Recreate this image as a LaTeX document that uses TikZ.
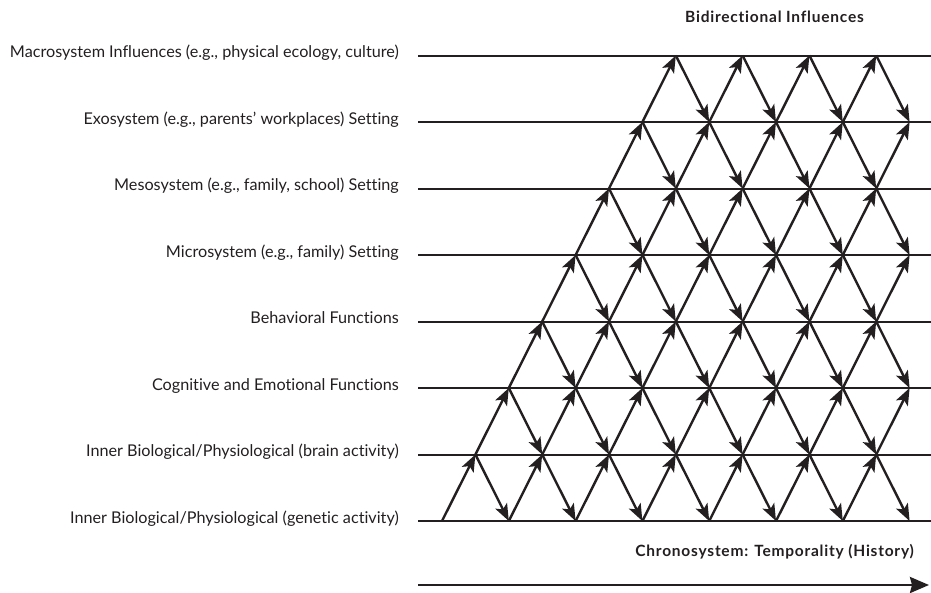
\documentclass[tikz,border=0pt]{standalone}
\usepackage{fontspec}
\setmainfont{Lato}[Ligatures=NoCommon]
\newfontfamily\headfont{Lato}[LetterSpace=5,Ligatures=NoCommon]
\usetikzlibrary{arrows.meta}
\definecolor{ink}{RGB}{35,31,32}
\begin{document}
\begin{tikzpicture}[x=1pt,y=-1pt,
  level/.style={line width=2pt,draw=ink},
  arr/.style={line width=2.4pt,draw=ink,-{Stealth[length=17pt,width=13pt,inset=4pt]}},
  chrono/.style={line width=2.6pt,draw=ink,-{Stealth[length=19pt,width=16pt,inset=2pt]}},
  lab/.style={anchor=base east,inner sep=0pt,text=ink,font=\fontsize{16.2}{18}\selectfont},
  head/.style={anchor=base east,inner sep=0pt,text=ink,font=\fontsize{15.5}{18}\selectfont\headfont\bfseries}]
\useasboundingbox (0,0) rectangle (931,592);
% level lines
\foreach \k/\t in {0/{Inner Biological/Physiological (genetic activity)},
                   1/{Inner Biological/Physiological (brain activity)},
                   2/{Cognitive and Emotional Functions},
                   3/{Behavioral Functions},
                   4/{Microsystem (e.g., family) Setting},
                   5/{Mesosystem (e.g., family, school) Setting},
                   6/{Exosystem (e.g., parents’ workplaces) Setting},
                   7/{Macrosystem Influences (e.g., physical ecology, culture)}}{
  \coordinate (L\k) at (418,{521-66.5*\k});
  \coordinate (R\k) at (931,{521-66.5*\k});
  \draw[level] (L\k) -- (R\k);
  \node[lab] (T\k) at (399,{523-66.5*\k}) {\t};
}
% lattice points
\foreach \k in {0,...,7}{
  \pgfmathtruncatemacro\J{7-ceil(\k/2)}
  \foreach \j in {0,...,\J}{
    \coordinate (p\k-\j) at ({442+33.4*\k+66.8*\j},{521-66.5*\k});
  }
}
% bidirectional arrows
\foreach \k in {0,...,6}{
  \pgfmathtruncatemacro\kk{\k+1}
  \pgfmathtruncatemacro\Jup{7-ceil(\kk/2)}
  \pgfmathtruncatemacro\Jlo{7-ceil(\k/2)}
  \foreach \j in {0,...,\Jup}{
    \draw[arr] (p\k-\j) -- (p\kk-\j);
    \pgfmathtruncatemacro\jj{\j+1}
    \ifnum\jj>\Jlo\else\draw[arr] (p\kk-\j) -- (p\k-\jj);\fi
  }
}
% titles
\node[head] (bidir) at (864,22) {Bidirectional Influences};
\node[head] (chronolab) at (914,556) {Chronosystem: Temporality (History)};
% time arrow
\coordinate (c0) at (418,585);
\coordinate (c1) at (929,585);
\draw[chrono] (c0) -- (c1);
\end{tikzpicture}
\end{document}
